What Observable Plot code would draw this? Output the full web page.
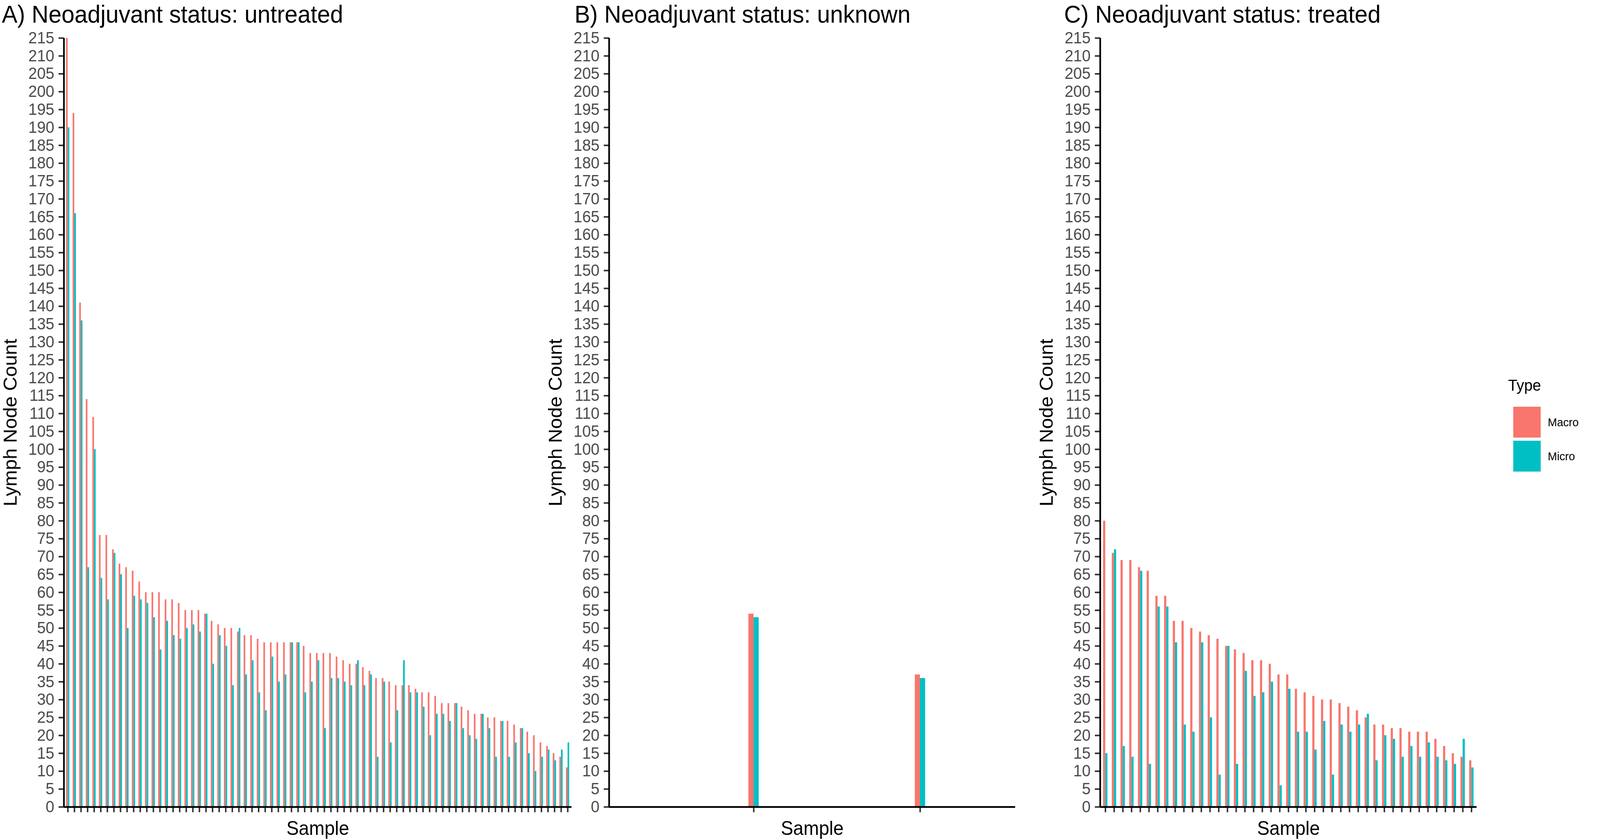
<!DOCTYPE html>
<html>
<head>
<meta charset="utf-8">
<script src="https://cdn.jsdelivr.net/npm/d3@7"></script>
<script src="https://cdn.jsdelivr.net/npm/@observablehq/plot@0.6"></script>
<style>
  html, body { margin: 0; padding: 0; background: #ffffff; overflow: hidden; }
  body { position: relative; font-family: "Liberation Sans", Arial, Helvetica, sans-serif; }
  #stage { position: absolute; left: 0; top: 0; width: 4317px; height: 2150px; transform-origin: 0 0; background: #ffffff; }
  .layer { position: absolute; top: 0; }
</style>
</head>
<body>
<div id="stage"></div>
<script>
// ---- data ----
const types = ["Macro", "Micro"];
const typeColors = ["#F8766D", "#00BFC4"];
const legendTitle = "Type";

const titleA = "A) Neoadjuvant status: untreated";
const macroA = [215,194,141,114,109,76,76,72,68,67,66,63,60,60,60,58,58,57,55,55,55,54,52,51,50,50,
                49,48,48,47,46,46,46,46,46,46,45,43,43,43,43,42,41,40,40,39,38,36,36,35,34,34,
                34,33,32,32,31,29,29,29,28,27,26,26,25,25,24,24,23,22,21,20,18,17,15,14,11];
const microA = [190,166,136,67,100,64,58,71,65,50,59,58,57,53,44,52,48,47,50,51,49,54,40,48,45,34,
                50,37,41,32,27,42,35,37,46,46,32,35,41,22,36,36,35,34,41,34,37,14,35,18,27,41,
                32,32,28,20,26,26,24,29,22,20,19,26,22,14,24,14,18,22,15,10,14,16,13,16,18];

const titleB = "B) Neoadjuvant status: unknown";
const macroB = [54, 37];
const microB = [53, 36];

const titleC = "C) Neoadjuvant status: treated";
const macroC = [80,71,69,69,67,66,59,59,52,52,50,49,48,47,45,44,43,41,41,40,37,37,33,32,31,30,30,
                29,28,27,25,23,23,22,22,21,21,21,19,17,15,14,13];
const microC = [15,72,17,14,66,12,56,56,46,23,21,46,25,9,45,12,38,31,32,35,6,33,21,21,16,24,9,
                23,21,23,26,13,20,19,14,17,14,18,14,13,12,19,11];

const yTicks = d3.range(0, 216, 5);
const yLabel = "Lymph Node Count";
const xLabel = "Sample";

const FONT = "Liberation Sans, Arial, Helvetica, sans-serif";
const W = 4317, H = 2150;

// fit the 4317x2150 design into the actual viewport (the window may be narrower)
const stage = document.getElementById("stage");
const vw = document.documentElement.clientWidth || window.innerWidth || W;
const vh = document.documentElement.clientHeight || window.innerHeight || H;
const sx = Math.min(1, vw / W), sy = Math.min(1, vh / H);
stage.style.transform = `scale(${sx}, ${sy})`;
document.documentElement.style.width = document.body.style.width = (W * sx) + "px";
document.documentElement.style.height = document.body.style.height = (H * sy) + "px";

// full-size background layer: panel titles + legend
const bg = d3.create("svg")
  .attr("class", "layer")
  .attr("width", W).attr("height", H)
  .attr("viewBox", `0 0 ${W} ${H}`)
  .style("left", "0px")
  .attr("font-family", FONT);
bg.append("rect").attr("width", W).attr("height", H).attr("fill", "white");
stage.appendChild(bg.node());

const MT = 97, MB = 85;

function makePanel({title, macro, micro, left, width, marginLeft, marginRight, xDomain, half, titleX}) {
  const rows = [];
  macro.forEach((v, i) => rows.push({sample: i + 1, type: types[0], value: v}));
  micro.forEach((v, i) => rows.push({sample: i + 1, type: types[1], value: v}));
  const n = macro.length;
  const chart = Plot.plot({
    width, height: H,
    marginLeft, marginRight, marginTop: MT, marginBottom: MB,
    style: {fontFamily: FONT, background: "transparent", overflow: "visible"},
    x: {domain: xDomain, axis: null},
    y: {domain: [0, 215], axis: null},
    color: {domain: types, range: typeColors},
    marks: [
      Plot.rectY(rows, {
        x1: d => d.type === types[0] ? d.sample - half : d.sample,
        x2: d => d.type === types[0] ? d.sample : d.sample + half,
        y1: 0, y2: "value", fill: "type"
      }),
      Plot.axisY({ticks: yTicks, tickSize: 14, tickPadding: 12, fontSize: 42,
                  fill: "#4D4D4D", stroke: "#333333", strokeWidth: 4, label: null}),
      Plot.axisX({ticks: d3.range(1, n + 1), tickFormat: () => "", tickSize: 14,
                  stroke: "#333333", strokeWidth: 4, label: null}),
      Plot.ruleY([0], {stroke: "black", strokeWidth: 4.5}),
      Plot.ruleX([xDomain[0]], {stroke: "black", strokeWidth: 4.5}),
      Plot.text([yLabel], {frameAnchor: "left", textAnchor: "middle", rotate: -90, dx: -144,
                           fontSize: 50, fill: "black", lineAnchor: "middle"}),
      Plot.text([xLabel], {frameAnchor: "bottom", textAnchor: "middle", dy: 55,
                           fontSize: 50, fill: "black", lineAnchor: "middle"})
    ]
  });
  chart.classList.add("layer");
  chart.style.left = left + "px";
  chart.style.maxWidth = "none";
  stage.appendChild(chart);
  bg.append("text").attr("x", titleX).attr("y", 58)
    .attr("font-size", 63).attr("fill", "black").text(title);
}

makePanel({title: titleA, macro: macroA, micro: microA, left: 0, width: 1600,
           marginLeft: 172, marginRight: 58, xDomain: [0.4, macroA.length + 0.6], half: 0.25, titleX: 5});
makePanel({title: titleB, macro: macroB, micro: microB, left: 1480, width: 1300,
           marginLeft: 163, marginRight: 41, xDomain: [0.131, 2.572], half: 0.031, titleX: 1550});
makePanel({title: titleC, macro: macroC, micro: microC, left: 2800, width: 1250,
           marginLeft: 168, marginRight: 66, xDomain: [0.4, macroC.length + 0.6], half: 0.25, titleX: 2871});

// legend
const lg = bg.append("g");
lg.append("text").attr("x", 4069).attr("y", 1000).attr("font-size", 41).attr("fill", "black").text(legendTitle);
types.forEach((t, i) => {
  const y0 = 1041 + i * 87;
  lg.append("rect").attr("x", 4083).attr("y", y0).attr("width", 74).attr("height", 79).attr("fill", typeColors[i]);
  lg.append("text").attr("x", 4176).attr("y", y0 + 40 + 10).attr("font-size", 30).attr("fill", "black").text(t);
});
</script>
</body>
</html>
